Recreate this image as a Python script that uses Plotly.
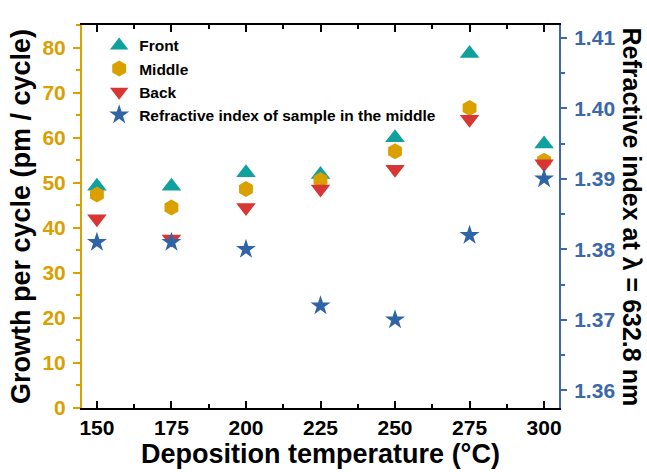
import plotly.graph_objects as go

temperature = [150, 175, 200, 225, 250, 275, 300]
front = [49.2, 49.2, 52.2, 51.8, 60.0, 78.7, 58.6]
middle = [47.4, 44.5, 48.6, 50.6, 57.0, 66.6, 54.9]
back = [42.0, 37.5, 44.5, 48.6, 53.0, 64.1, 54.2]
n_middle = [1.381, 1.381, 1.380, 1.372, 1.370, 1.382, 1.390]

C_FRONT = "#0FA19E"
C_MIDDLE = "#D9A000"
C_BACK = "#D83535"
C_STAR = "#2F64A6"
GOLD = "#D9A000"
BLUE = "#3A68A8"
FONT = "Liberation Sans, Arial, sans-serif"

fig = go.Figure()
fig.add_trace(go.Scatter(x=temperature, y=front, mode="markers", name="Front",
                         marker=dict(symbol="triangle-up", size=17, color=C_FRONT)))
fig.add_trace(go.Scatter(x=temperature, y=middle, mode="markers", name="Middle",
                         marker=dict(symbol="hexagon", size=16, color=C_MIDDLE)))
fig.add_trace(go.Scatter(x=temperature, y=back, mode="markers", name="Back",
                         marker=dict(symbol="triangle-down", size=17, color=C_BACK)))
fig.add_trace(go.Scatter(x=temperature, y=n_middle, mode="markers",
                         name="Refractive index of sample in the middle", yaxis="y2",
                         marker=dict(symbol="star", size=15, color=C_STAR)))

fig.update_layout(
    width=647, height=472,
    margin=dict(l=82, r=88, t=25, b=61),
    plot_bgcolor="white", paper_bgcolor="white",
    font=dict(family=FONT, size=20, color="black", weight="bold"),
    showlegend=True,
    legend=dict(x=0.036, y=0.99, xanchor="left", yanchor="top",
                bgcolor="rgba(0,0,0,0)", borderwidth=0,
                font=dict(family=FONT, size=15.5, color="black", weight="bold"),
                itemsizing="trace", tracegroupgap=0),
    xaxis=dict(
        range=[145, 305], tickmode="array", tickvals=temperature,
        ticks="inside", ticklen=7, tickwidth=2, tickcolor="black",
        showline=True, linewidth=2, linecolor="black", mirror="ticks",
        showgrid=False, zeroline=False,
        tickfont=dict(family=FONT, size=21, color="black", weight="bold"),
        minor=dict(ticks="inside", ticklen=4, tickwidth=2, tickcolor="black",
                   dtick=12.5, tick0=150, showgrid=False),
        title=dict(text="Deposition temperature (°C)", standoff=2,
                   font=dict(family=FONT, size=27, color="black", weight="bold")),
    ),
    yaxis=dict(
        range=[0, 85], dtick=10, tick0=0,
        ticks="outside", ticklen=7, tickwidth=2, tickcolor=GOLD,
        showline=True, linewidth=2, linecolor=GOLD,
        showgrid=False, zeroline=False, ticklabelstandoff=3,
        tickfont=dict(family=FONT, size=21, color=GOLD, weight="bold"),
        minor=dict(ticks="outside", ticklen=4, tickwidth=2, tickcolor=GOLD,
                   dtick=5, tick0=0, showgrid=False),
        title=dict(text="Growth per cycle (pm / cycle)", standoff=4,
                   font=dict(family=FONT, size=27, color="black", weight="bold")),
    ),
    yaxis2=dict(
        overlaying="y", side="right", anchor="x",
        range=[1.3575, 1.4118], tickmode="array",
        tickvals=[1.36, 1.37, 1.38, 1.39, 1.40, 1.41],
        ticktext=["1.36", "1.37", "1.38", "1.39", "1.40", "1.41"],
        ticks="outside", ticklen=6, tickwidth=2, tickcolor=BLUE,
        showline=True, linewidth=2, linecolor=BLUE,
        showgrid=False, zeroline=False, ticklabelstandoff=3,
        tickfont=dict(family=FONT, size=21, color=BLUE, weight="bold"),
        minor=dict(ticks="outside", ticklen=4, tickwidth=2, tickcolor=BLUE,
                   tickvals=[1.365, 1.375, 1.385, 1.395, 1.405], showgrid=False),
    ),
    annotations=[dict(
        text="Refractive index at λ = 632.8 nm", xref="paper", yref="paper",
        x=1, y=0.5, xanchor="center", yanchor="middle", xshift=73,
        textangle=90, showarrow=False,
        font=dict(family=FONT, size=25, color="black", weight="bold"),
    )],
)

fig.write_html("out.html")
